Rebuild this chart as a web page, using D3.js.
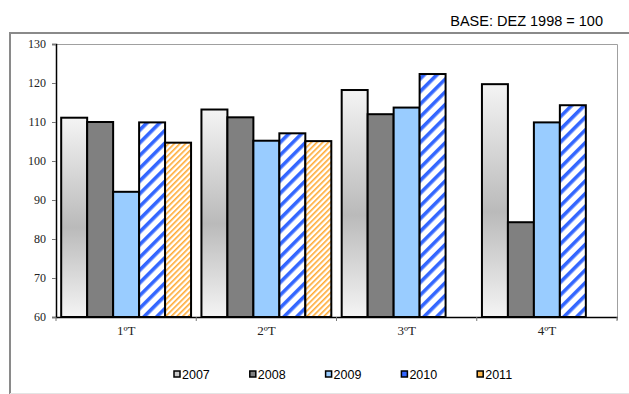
<!DOCTYPE html>
<html>
<head>
<meta charset="utf-8">
<script src="https://d3js.org/d3.v7.min.js"></script>
<style>
body { margin: 0; background: white; }
svg { display: block; }
</style>
</head>
<body>
<svg width="629" height="394"></svg>
<script>
// values (index, base Dec 1998 = 100)
var categories = ["1ºT", "2ºT", "3ºT", "4ºT"];
var years = ["2007", "2008", "2009", "2010", "2011"];
var v2007 = [111.1, 113.2, 118.2, 119.7];
var v2008 = [110.0, 111.2, 112.0, 84.3];
var v2009 = [92.1, 105.2, 113.7, 109.9];
var v2010 = [109.9, 107.1, 122.3, 114.3];
var v2011 = [104.7, 105.1, null, null];
var yTicks = [60, 70, 80, 90, 100, 110, 120, 130];

var series = [v2007, v2008, v2009, v2010, v2011];
var fills = ["url(#grad2007)", "#808080", "#99ccff", "url(#stripe2010)", "url(#stripe2011)"];

var svg = d3.select("svg");
var plotLeft = 56, plotRight = 617, plotTop = 44, plotBottom = 317;

// patterns and gradient
var defs = svg.append("defs");
var g7 = defs.append("linearGradient").attr("id", "grad2007")
  .attr("x1", 0).attr("y1", 0).attr("x2", 0).attr("y2", 1);
g7.append("stop").attr("offset", "0%").attr("stop-color", "#f4f4f4");
g7.append("stop").attr("offset", "55%").attr("stop-color", "#bababa");
g7.append("stop").attr("offset", "100%").attr("stop-color", "#f4f4f4");

var p10 = defs.append("pattern").attr("id", "stripe2010")
  .attr("patternUnits", "userSpaceOnUse").attr("width", 9).attr("height", 9)
  .attr("patternTransform", "rotate(45)");
p10.append("rect").attr("width", 9).attr("height", 9).attr("fill", "white");
p10.append("rect").attr("width", 3.6).attr("height", 9).attr("fill", "#3366ff");

var p11 = defs.append("pattern").attr("id", "stripe2011")
  .attr("patternUnits", "userSpaceOnUse").attr("width", 4).attr("height", 4)
  .attr("patternTransform", "rotate(45)");
p11.append("rect").attr("width", 4).attr("height", 4).attr("fill", "white");
p11.append("rect").attr("width", 1.6).attr("height", 4).attr("fill", "#ffaa33");

// outer frame
svg.append("path")
  .attr("d", "M10,394 L10,33 L629,33")
  .attr("fill", "none").attr("stroke", "#8a8a8a").attr("stroke-width", 2);
svg.append("line").attr("x1", 10).attr("x2", 629).attr("y1", 393.5).attr("y2", 393.5)
  .attr("stroke", "#e4e4e4");

// plot area border (top/right)
svg.append("path")
  .attr("d", "M" + plotLeft + "," + (plotTop + 0.5) + " L" + (plotRight + 0.5) + "," + (plotTop + 0.5) + " L" + (plotRight + 0.5) + "," + (plotBottom + 3))
  .attr("fill", "none").attr("stroke", "#a0a0a0").attr("stroke-width", 1);

var x = d3.scaleBand().domain(categories).range([plotLeft, plotRight]).padding(0);
var xs = d3.scaleBand().domain(years).range([0, x.bandwidth()]).paddingInner(0).paddingOuter(0.2);
var y = d3.scaleLinear().domain([60, 130]).range([plotBottom, plotTop]);

// bars
years.forEach(function(yr, si) {
  svg.append("g").selectAll("rect")
    .data(categories.map(function(c, i) { return {c: c, v: series[si][i]}; })
      .filter(function(d) { return d.v != null; }))
    .join("rect")
    .attr("x", function(d) { return x(d.c) + xs(yr); })
    .attr("width", xs.bandwidth())
    .attr("y", function(d) { return y(d.v); })
    .attr("height", function(d) { return y(60) - y(d.v); })
    .attr("fill", fills[si])
    .attr("stroke", "black")
    .attr("stroke-width", 2);
});

// y axis
var yAxis = svg.append("g")
  .attr("transform", "translate(" + plotLeft + ",0)")
  .call(d3.axisLeft(y).tickValues(yTicks).tickSize(4).tickPadding(6));
yAxis.select(".domain").attr("stroke", "black").attr("stroke-width", 1.5);
yAxis.selectAll(".tick line").attr("stroke", "#777");
yAxis.selectAll("text").attr("font-family", "Liberation Serif, Times New Roman, serif")
  .attr("font-size", 12).attr("fill", "#222");

// x axis
var xAxis = svg.append("g")
  .attr("transform", "translate(0," + plotBottom + ")")
  .call(d3.axisBottom(x).tickSize(0).tickPadding(9));
xAxis.select(".domain").attr("stroke", "black").attr("stroke-width", 1.5);
xAxis.selectAll("text").attr("font-family", "Liberation Serif, Times New Roman, serif")
  .attr("font-size", 13).attr("fill", "#222");
svg.append("g").selectAll("line")
  .data(categories.concat(["end"]))
  .join("line")
  .attr("x1", function(d, i) { return plotLeft + i * x.step(); })
  .attr("x2", function(d, i) { return plotLeft + i * x.step(); })
  .attr("y1", plotBottom).attr("y2", plotBottom + 4)
  .attr("stroke", "#777");

// legend
var legend = svg.append("g").selectAll("g")
  .data(years)
  .join("g")
  .attr("transform", function(d, i) { return "translate(" + (174 + i * 75.8) + ",371)"; });
legend.append("rect")
  .attr("width", 6).attr("height", 6)
  .attr("fill", function(d, i) { return ["#c8c8c8", "#808080", "#99ccff", "#3366ff", "#ffb84d"][i]; })
  .attr("stroke", "black").attr("stroke-width", 1.5);
legend.append("text")
  .attr("x", 8).attr("y", 8)
  .attr("font-family", "Liberation Sans, Arial, sans-serif")
  .attr("font-size", 12.5)
  .text(function(d) { return d; });

// base note
svg.append("text")
  .attr("x", 603).attr("y", 26)
  .attr("text-anchor", "end")
  .attr("font-family", "Liberation Sans, Arial, sans-serif")
  .attr("font-size", 14.5)
  .text("BASE: DEZ 1998 = 100");
</script>
</body>
</html>
